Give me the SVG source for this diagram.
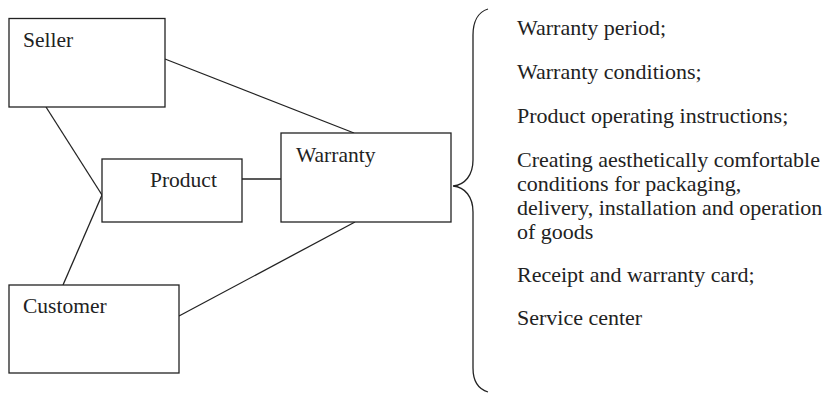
<svg xmlns="http://www.w3.org/2000/svg" width="824" height="394" viewBox="0 0 824 394">
<style>
.box{fill:#fff;stroke:#222;stroke-width:1.3}
.ln{fill:none;stroke:#222;stroke-width:1.3}
text{font-family:"Liberation Serif","Times New Roman",serif;font-size:21.5px;fill:#222}
.it{font-size:22px}
</style>
<rect width="824" height="394" fill="#fff"/>
<g id="connectors">
<line class="ln" x1="165" y1="59" x2="354" y2="133"/>
<line class="ln" x1="46" y1="107" x2="102" y2="195"/>
<line class="ln" x1="63" y1="285" x2="102" y2="195"/>
<line class="ln" x1="242" y1="179" x2="281" y2="179"/>
<line class="ln" x1="355" y1="222" x2="179" y2="316"/>
</g>
<g id="seller"><rect class="box" x="9" y="18.5" width="156" height="88.5"/><text x="23" y="47">Seller</text></g>
<g id="product"><rect class="box" x="102" y="159" width="140" height="63"/><text x="150" y="187">Product</text></g>
<g id="warranty"><rect class="box" x="281" y="133" width="170" height="89"/><text x="296" y="162">Warranty</text></g>
<g id="customer"><rect class="box" x="9" y="285" width="170" height="88"/><text x="23" y="313">Customer</text></g>
<g id="brace"><path class="ln" d="M488,9 C478,12 473,22 473,35 L473,160 C473,175 465,185 453,186 C465,187 473,197 473,212 L473,368 C473,380 478,389 488,392"/></g>
<g id="items">
<text class="it" x="517" y="35">Warranty period;</text>
<text class="it" x="517" y="79">Warranty conditions;</text>
<text class="it" x="517" y="123">Product operating instructions;</text>
<text class="it" x="517" y="167">Creating aesthetically comfortable</text>
<text class="it" x="517" y="191">conditions for packaging,</text>
<text class="it" x="517" y="215">delivery, installation and operation</text>
<text class="it" x="517" y="239">of goods</text>
<text class="it" x="517" y="282">Receipt and warranty card;</text>
<text class="it" x="517" y="325">Service center</text>
</g>
</svg>
